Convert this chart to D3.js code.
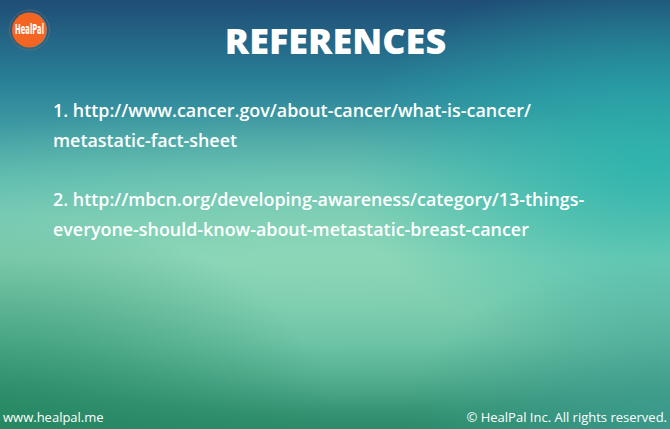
<!DOCTYPE html>
<html>
<head>
<meta charset="utf-8">
<script src="https://cdn.jsdelivr.net/npm/d3@7"></script>
<style>
  html, body { margin: 0; padding: 0; overflow: hidden; }
  svg { display: block; font-family: "Open Sans", sans-serif; }
</style>
</head>
<body>
<svg id="slide" width="670" height="429"></svg>
<script>
// slide content
var title = "REFERENCES";
var refLines = [
    "1. http://www.cancer.gov/about-cancer/what-is-cancer/",
    "metastatic-fact-sheet",
    "",
    "2. http://mbcn.org/developing-awareness/category/13-things-",
    "everyone-should-know-about-metastatic-breast-cancer"
];
var footerLeft = "www.healpal.me";
var footerRight = "\u00A9 HealPal Inc. All rights reserved.";
var logoText = "HealPal";

var width = 670, height = 429;
var svg = d3.select("#slide");
var defs = svg.append("defs");

// background gradient, top to bottom
var bg = defs.append("linearGradient").attr("id", "bg")
    .attr("x1", 0).attr("y1", 0).attr("x2", 0).attr("y2", 1);
[["0%", "#1f4d76"], ["20%", "#2a8399"], ["42%", "#58b8ae"], ["60%", "#86d3b6"],
 ["80%", "#5cb99c"], ["100%", "#2c8a69"]].forEach(function(s) {
    bg.append("stop").attr("offset", s[0]).attr("stop-color", s[1]);
});

// teal glow on the right
var glow = defs.append("radialGradient").attr("id", "glow")
    .attr("cx", 0.97).attr("cy", 0.38).attr("r", 0.45);
glow.append("stop").attr("offset", "0%").attr("stop-color", "#25b3ad").attr("stop-opacity", 0.8);
glow.append("stop").attr("offset", "100%").attr("stop-color", "#25b3ad").attr("stop-opacity", 0);

// light mint band across the middle
var mint = defs.append("radialGradient").attr("id", "mint")
    .attr("cx", 0.5).attr("cy", 0.6).attr("r", 0.6)
    .attr("gradientTransform", "translate(0.5,0.6) scale(1.6,0.6) translate(-0.5,-0.6)");
mint.append("stop").attr("offset", "0%").attr("stop-color", "#8ed8b8").attr("stop-opacity", 0.75);
mint.append("stop").attr("offset", "100%").attr("stop-color", "#8ed8b8").attr("stop-opacity", 0);

// darker green in bottom left, teal in bottom right
var dark = defs.append("radialGradient").attr("id", "dark")
    .attr("cx", 0.0).attr("cy", 1.0).attr("r", 0.5);
dark.append("stop").attr("offset", "0%").attr("stop-color", "#23855f").attr("stop-opacity", 0.75);
dark.append("stop").attr("offset", "100%").attr("stop-color", "#23855f").attr("stop-opacity", 0);
var br = defs.append("radialGradient").attr("id", "br")
    .attr("cx", 1.0).attr("cy", 1.0).attr("r", 0.4);
br.append("stop").attr("offset", "0%").attr("stop-color", "#3d9c92").attr("stop-opacity", 0.8);
br.append("stop").attr("offset", "100%").attr("stop-color", "#3d9c92").attr("stop-opacity", 0);

["bg", "mint", "glow", "dark", "br"].forEach(function(id) {
    svg.append("rect").attr("width", width).attr("height", height)
        .attr("fill", "url(#" + id + ")");
});

// logo
var logo = svg.append("g").attr("transform", "translate(29.5,30)");
logo.append("circle").attr("r", 20).attr("fill", "none")
    .attr("stroke", "#7a6f6a").attr("stroke-opacity", 0.7).attr("stroke-width", 0.8);
logo.append("circle").attr("r", 17.5).attr("fill", "#f26522");
logo.append("text").attr("x", -14.5).attr("y", 4)
    .attr("textLength", 29).attr("lengthAdjust", "spacingAndGlyphs")
    .attr("font-family", "'Liberation Sans Narrow', 'DejaVu Sans Condensed', sans-serif")
    .attr("font-weight", 700).attr("font-size", 14).attr("fill", "#fff")
    .text(logoText);

// title
svg.append("text").attr("x", width / 2 + 0.5).attr("y", 54)
    .attr("text-anchor", "middle").attr("font-weight", 800)
    .attr("font-size", 36).attr("fill", "#fff").text(title);

// references
var y = d3.scaleLinear().domain([0, refLines.length - 1]).range([117, 236]);
svg.append("g").selectAll("text").data(refLines).join("text")
    .attr("x", 53).attr("y", function(d, i) { return y(i); })
    .attr("font-weight", 600).attr("font-size", 17.9).attr("fill", "#fff")
    .text(function(d) { return d; });

// footer
svg.append("text").attr("x", 3).attr("y", 422).attr("font-size", 13)
    .attr("fill", "#fff").text(footerLeft);
svg.append("text").attr("x", 667).attr("y", 422).attr("text-anchor", "end")
    .attr("font-size", 13).attr("fill", "#fff").text(footerRight);
</script>
</body>
</html>
